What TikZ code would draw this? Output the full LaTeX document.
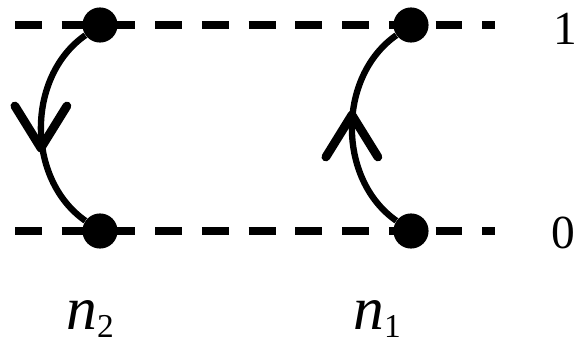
\documentclass[tikz,border=0pt]{standalone}
\usepackage{fontspec}
\setmainfont{Liberation Serif}
\usetikzlibrary{positioning,decorations.markings}

\tikzset{
  dot/.style={circle,fill=black,inner sep=0pt,minimum size=20pt},
  level/.style={line width=4.5pt,dash pattern=on 15.3pt off 11.3pt},
  hop/.style={line width=3.6pt,postaction={decorate},
    decoration={markings,mark=at position 0.5 with
      {\draw[line width=5pt,line cap=round,line join=round] (#1-42,26) -- (#1,0) -- (#1-42,-26);}}},
}

\begin{document}
\begin{tikzpicture}[x=0.02cm,y=-0.02cm]
\useasboundingbox (0,0) rectangle (579,348);

% levels
\coordinate (l1a) at (15,25);
\coordinate (l1b) at (495,25);
\coordinate (l0a) at (15,231);
\coordinate (l0b) at (495,231);
\draw[level] (l1a) -- (l1b);
\draw[level] (l0a) -- (l0b);

% states
\node [dot] (t2) at (100,25) {};
\node [dot] (b2) at (100,231) {};
\node [dot] (t1) at (411,25) {};
\node [dot] (b1) at (411,231) {};

\draw [hop=20] (t2) to [bend right=55] (b2);
\draw [hop=13] (b1) to [bend left=55] (t1);

% labels
\node [anchor=base,font=\fontsize{27}{30}\selectfont] (one) at (565,45) {1};
\node [anchor=base,font=\fontsize{27}{30}\selectfont] (zero) at (563,249) {0};
\node [anchor=base west,inner sep=0pt,font=\fontsize{35}{40}\selectfont] (n2) at (66,330)
  {\textit{n}\raisebox{-4pt}{\fontsize{19}{20}\selectfont 2}};
\node [anchor=base west,inner sep=0pt,font=\fontsize{35}{40}\selectfont] (n1) at (353,330)
  {\textit{n}\raisebox{-4pt}{\fontsize{19}{20}\selectfont 1}};
\end{tikzpicture}
\end{document}
